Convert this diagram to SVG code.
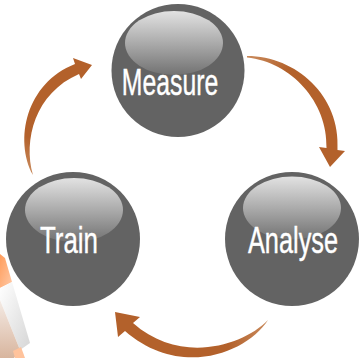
<svg xmlns="http://www.w3.org/2000/svg" width="359" height="358" viewBox="0 0 359 358">
<defs>
<linearGradient id="hl" x1="0" y1="0" x2="0" y2="1">
<stop offset="0" stop-color="#e2e2e2"/>
<stop offset="0.5" stop-color="#ababab"/>
<stop offset="1" stop-color="#727272"/>
</linearGradient>
<linearGradient id="or" x1="0" y1="0" x2="1" y2="1">
<stop offset="0" stop-color="#ff9d5c"/>
<stop offset="1" stop-color="#ffc9a6"/>
</linearGradient>
<linearGradient id="gb" x1="0" y1="0" x2="1" y2="1">
<stop offset="0" stop-color="#ffffff"/>
<stop offset="1" stop-color="#d6d6d6"/>
</linearGradient>
<linearGradient id="bg" x1="0" y1="0" x2="0" y2="1">
<stop offset="0" stop-color="#f4ebe5"/>
<stop offset="1" stop-color="#d8b59e"/>
</linearGradient>
<linearGradient id="ag1" x1="247" y1="57" x2="330" y2="167" gradientUnits="userSpaceOnUse">
<stop offset="0" stop-color="#c98a5c"/>
<stop offset="0.25" stop-color="#b3612b"/>
<stop offset="1" stop-color="#b3612b"/>
</linearGradient>
<linearGradient id="ag2" x1="268" y1="320" x2="115" y2="312" gradientUnits="userSpaceOnUse">
<stop offset="0" stop-color="#c98a5c"/>
<stop offset="0.25" stop-color="#b3612b"/>
<stop offset="1" stop-color="#b3612b"/>
</linearGradient>
<linearGradient id="ag3" x1="33" y1="175" x2="92" y2="65" gradientUnits="userSpaceOnUse">
<stop offset="0" stop-color="#c98a5c"/>
<stop offset="0.25" stop-color="#b3612b"/>
<stop offset="1" stop-color="#b3612b"/>
</linearGradient>
</defs>
<style>
.ball{fill:#636363}
.shine{fill:url(#hl)}
.lbl{font-family:"Liberation Sans",Arial,sans-serif;font-size:37px;fill:#ffffff;stroke:#ffffff;stroke-width:0.4;text-anchor:middle}
</style>
<g id="decoration">
<polygon points="0,254 5,258 12,282 0,288" fill="url(#or)"/>
<polygon points="0,288 12,282 30,343 20,350 0,300" fill="url(#gb)"/>
<polygon points="0,300 20,350 14,358 0,358" fill="url(#bg)"/>
<polygon points="13,351 21,347 25,358 15,358" fill="#ffc39c"/>
</g>
<g id="connectors">
<path id="a1" fill="url(#ag1)" d="M247,56 C296,56 341,96 337.5,150 L345,151 L330,167 L319,147 L326.5,148 C328,102 291,62 247,57.5 Z"/>
<path id="a2" fill="url(#ag2)" d="M268,320 C247,353 180,379 125,331 L118,337 L115,312 L140,317 L133,323 C180,365 243,346 268,320 Z"/>
<path id="a3" fill="url(#ag3)" d="M33,175 C14,140 26,83 75,64 L73,58 L92,65 L81,79 L79,74 C35,93 23,140 33,175 Z"/>
</g>
<g id="measure">
<circle class="ball" cx="178" cy="70.5" r="66.5"/>
<ellipse class="shine" cx="174" cy="43" rx="49" ry="32"/>
<text class="lbl" transform="translate(170,95) scale(0.67,1)">Measure</text>
</g>
<g id="analyse">
<circle class="ball" cx="292" cy="239" r="67"/>
<ellipse class="shine" cx="292" cy="208" rx="49" ry="31.5"/>
<text class="lbl" transform="translate(293,253) scale(0.685,1)">Analyse</text>
</g>
<g id="train">
<circle class="ball" cx="73" cy="239" r="67"/>
<ellipse class="shine" cx="74" cy="210" rx="49" ry="32"/>
<text class="lbl" transform="translate(69,253) scale(0.7,1)">Train</text>
</g>
</svg>
